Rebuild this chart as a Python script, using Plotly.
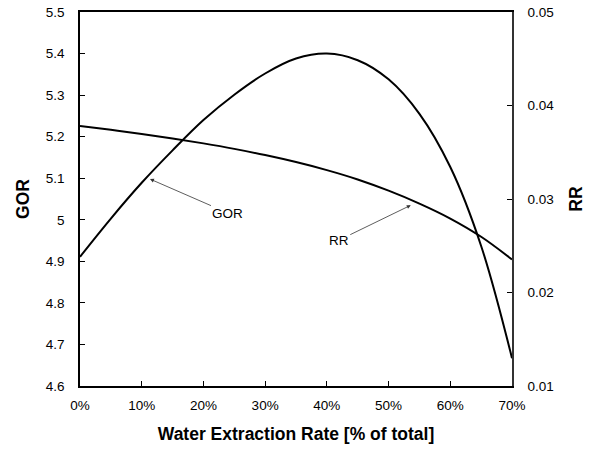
import plotly.graph_objects as go

# Data
extraction_pct = [0, 5, 10, 15, 20, 25, 30, 35, 40, 45, 50, 55, 60, 65, 70]
gor_values = [4.911, 5.003, 5.089, 5.167, 5.240, 5.301, 5.352, 5.388, 5.400,
              5.384, 5.338, 5.255, 5.127, 4.937, 4.667]
rr_values = [0.03780, 0.03740, 0.03696, 0.03648, 0.03595, 0.03536, 0.03470,
             0.03395, 0.03309, 0.03209, 0.03089, 0.02951, 0.02791, 0.02596, 0.02353]

gor_ticks = [4.6, 4.7, 4.8, 4.9, 5.0, 5.1, 5.2, 5.3, 5.4, 5.5]
rr_ticks = [0.01, 0.02, 0.03, 0.04, 0.05]
x_ticks = [0, 10, 20, 30, 40, 50, 60, 70]
x_tick_labels = ["%d%%" % v for v in x_ticks]

FONT = "Liberation Sans, Arial, sans-serif"
TICK = 13.5
TITLE = 17.5

fig = go.Figure()
fig.add_trace(go.Scatter(x=extraction_pct, y=gor_values, mode="lines",
                         line=dict(color="black", width=2, shape="spline", smoothing=1.0),
                         name="GOR", yaxis="y"))
fig.add_trace(go.Scatter(x=extraction_pct, y=rr_values, mode="lines",
                         line=dict(color="black", width=2, shape="spline", smoothing=1.0),
                         name="RR", yaxis="y2"))

fig.update_layout(
    width=597, height=450,
    margin=dict(l=80, r=85, t=12, b=64),
    paper_bgcolor="white", plot_bgcolor="white",
    showlegend=False,
    font=dict(family=FONT, size=TICK, color="black"),
    xaxis=dict(range=[0, 70], tickvals=x_ticks, ticktext=x_tick_labels,
               showgrid=False, zeroline=False, automargin=False,
               showline=True, linecolor="black", linewidth=1.5, mirror=True,
               ticks="inside", ticklen=5, tickcolor="black",
               ticklabelstandoff=6,
               tickfont=dict(size=TICK),
               title=dict(text="<b>Water Extraction Rate [% of total]</b>",
                          font=dict(size=TITLE), standoff=16)),
    yaxis=dict(range=[4.6, 5.5], tickvals=gor_ticks,
               ticktext=[("%g" % v) for v in gor_ticks],
               showgrid=False, zeroline=False, automargin=False,
               showline=True, linecolor="black", linewidth=1.5,
               ticks="inside", ticklen=5, tickcolor="black",
               ticklabelstandoff=11,
               tickfont=dict(size=TICK),
               title=dict(text="<b>GOR</b>", font=dict(size=TITLE), standoff=12)),
    yaxis2=dict(range=[0.01, 0.05], tickvals=rr_ticks,
                ticktext=[("%g" % v) for v in rr_ticks],
                overlaying="y", side="right", automargin=False,
                showgrid=False, zeroline=False,
                showline=True, linecolor="#333", linewidth=1.5,
                ticks="inside", ticklen=5, tickcolor="black",
                ticklabelstandoff=11,
                tickfont=dict(size=TICK),
                title=dict(text="<b>RR</b>", font=dict(size=TITLE), standoff=17)),
    annotations=[
        dict(x=11.34, y=5.098, xref="x", yref="y", text="GOR",
             showarrow=True, ax=78, ay=34, arrowhead=2, arrowsize=1,
             arrowwidth=0.8, arrowcolor="#333", font=dict(size=TICK)),
        dict(x=53.6, y=5.035, xref="x", yref="y", text="RR",
             showarrow=True, ax=-72, ay=35, arrowhead=2, arrowsize=1,
             arrowwidth=0.8, arrowcolor="#333", font=dict(size=TICK)),
    ],
)

fig.write_html("out.html")
